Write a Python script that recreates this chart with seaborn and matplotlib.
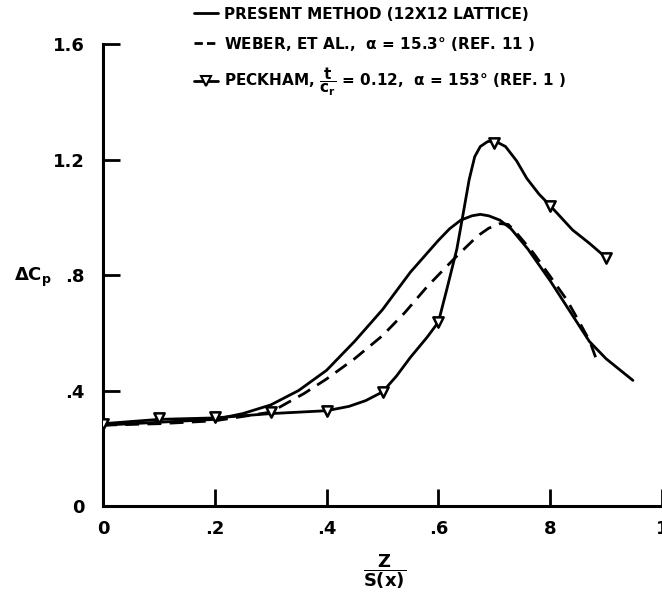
#!/usr/bin/env python3
"""Delta Cp vs Z/S(x) - present method, Weber et al., Peckham"""
import matplotlib
matplotlib.use('Agg')
import matplotlib.pyplot as plt
from matplotlib.lines import Line2D
import seaborn as sns
import pandas as pd

# present method (12x12 lattice)
present_x = [0.0, 0.1, 0.2, 0.25, 0.3, 0.35, 0.4, 0.45, 0.5, 0.55, 0.6, 0.62, 0.64,
             0.66, 0.675, 0.69, 0.71, 0.73, 0.76, 0.8, 0.85, 0.87, 0.9, 0.948]
present_y = [0.28, 0.29, 0.30, 0.32, 0.35, 0.40, 0.47, 0.57, 0.68, 0.81, 0.92, 0.96, 0.99,
             1.005, 1.01, 1.005, 0.99, 0.96, 0.89, 0.78, 0.63, 0.57, 0.51, 0.435]

# Weber, et al.
weber_x = [0.0, 0.1, 0.2, 0.3, 0.36, 0.4, 0.45, 0.5, 0.54, 0.58, 0.63, 0.67, 0.69,
           0.71, 0.725, 0.74, 0.77, 0.8, 0.83, 0.853, 0.871, 0.884]
weber_y = [0.28, 0.285, 0.295, 0.325, 0.39, 0.44, 0.51, 0.59, 0.67, 0.76, 0.86, 0.935, 0.962,
           0.978, 0.975, 0.945, 0.876, 0.795, 0.713, 0.634, 0.57, 0.50]

# Peckham, measured points
peckham_x = [0.0, 0.1, 0.2, 0.3, 0.4, 0.5, 0.6, 0.7, 0.8, 0.9]
peckham_y = [0.285, 0.305, 0.308, 0.326, 0.33, 0.395, 0.637, 1.257, 1.04, 0.86]

# Peckham faired curve through the points
peckham_fair_x = [0.0, 0.1, 0.2, 0.3, 0.4, 0.44, 0.47, 0.5, 0.525, 0.55, 0.58, 0.6, 0.615,
                  0.633, 0.645, 0.655, 0.665, 0.675, 0.688, 0.7, 0.72, 0.74, 0.758, 0.78,
                  0.8, 0.82, 0.84, 0.87, 0.9]
peckham_fair_y = [0.285, 0.30, 0.305, 0.32, 0.33, 0.345, 0.365, 0.395, 0.45, 0.515, 0.585,
                  0.637, 0.75, 0.89, 1.02, 1.13, 1.21, 1.245, 1.262, 1.265, 1.245, 1.195,
                  1.135, 1.08, 1.04, 0.998, 0.956, 0.91, 0.86]

x_ticks = [0, 0.2, 0.4, 0.6, 0.8, 1.0]
x_tick_labels = ['0', '.2', '.4', '.6', '8', '1']
y_ticks = [0, 0.4, 0.8, 1.2, 1.6]
y_tick_labels = ['0', '.4', '.8', '1.2', '1.6']

legend_labels = [
    'PRESENT METHOD (12X12 LATTICE)',
    r'WEBER, ET AL.,  $\alpha$ = 15.3° (REF. 11 )',
    r'PECKHAM, $\dfrac{t}{c_r}$ = 0.12,  $\alpha$ = 153° (REF. 1 )',
]

sns.set_theme(style='ticks')
plt.rcParams['font.family'] = ['DejaVu Sans']
plt.rcParams['font.weight'] = 'bold'
plt.rcParams['mathtext.default'] = 'bf'
for key in ['text.color', 'axes.labelcolor', 'xtick.color', 'ytick.color']:
    plt.rcParams[key] = 'black'

fig = plt.figure(figsize=(6.62, 6.03), dpi=100)
ax = fig.add_axes([103 / 662, 97 / 603, 559 / 662, 462 / 603])

present = pd.DataFrame({'x': present_x, 'y': present_y})
weber = pd.DataFrame({'x': weber_x, 'y': weber_y})
pfair = pd.DataFrame({'x': peckham_fair_x, 'y': peckham_fair_y})
pts = pd.DataFrame({'x': peckham_x, 'y': peckham_y})

sns.lineplot(data=present, x='x', y='y', sort=False, estimator=None, color='black',
             lw=2, ax=ax)
sns.lineplot(data=weber, x='x', y='y', sort=False, estimator=None, color='black',
             lw=2, ax=ax, linestyle=(0, (5, 3)))
sns.lineplot(data=pfair, x='x', y='y', sort=False, estimator=None, color='black',
             lw=2, ax=ax)
sns.scatterplot(data=pts, x='x', y='y', marker='v', s=55, facecolor='white',
                edgecolor='black', linewidth=1.8, zorder=5, ax=ax)

ax.set_xlim(0, 1.0)
ax.set_ylim(0, 1.6)
ax.set_xticks(x_ticks)
ax.set_xticklabels(x_tick_labels)
ax.set_yticks(y_ticks)
ax.set_yticklabels(y_tick_labels)
ax.tick_params(direction='in', length=12, width=2, labelsize=13, color='black',
               labelcolor='black')
ax.tick_params(axis='x', pad=10)
ax.tick_params(axis='y', pad=13)
for lab in ax.get_xticklabels() + ax.get_yticklabels():
    lab.set_fontweight('bold')

sns.despine(ax=ax)
for side in ['left', 'bottom']:
    ax.spines[side].set_linewidth(2.2)
    ax.spines[side].set_color('black')

ax.set_xlabel(r'$\dfrac{Z}{S(x)}$', fontsize=13)
ax.xaxis.set_label_coords(0.504, -0.1)
ax.set_ylabel(r'$\Delta C_p$', fontsize=13, rotation=0)
ax.yaxis.set_label_coords(-0.125, 0.47)

handles = [
    Line2D([], [], color='black', lw=2),
    Line2D([], [], color='black', lw=2, linestyle=(0, (3, 1.5))),
    Line2D([], [], color='black', lw=2, marker='v', markersize=7,
           markerfacecolor='white', markeredgecolor='black', markeredgewidth=1.5),
]
fig.legend(handles, legend_labels, loc='upper left', bbox_to_anchor=(180 / 662, 1.012),
           frameon=False, handlelength=1.6, handletextpad=0.4, labelspacing=0.85,
           prop={'size': 11, 'weight': 'bold'})

fig.savefig('out.png', dpi=100)
